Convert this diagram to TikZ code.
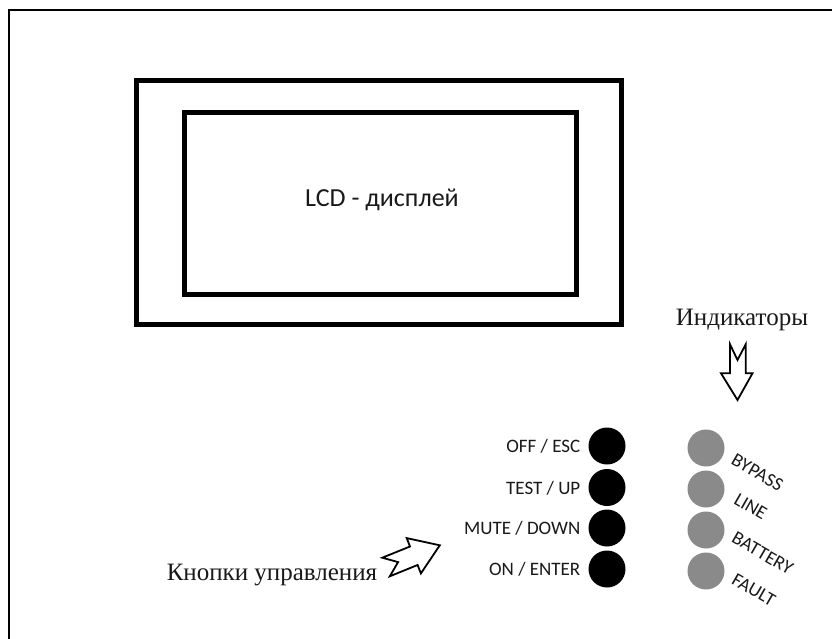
\documentclass[tikz,border=0pt]{standalone}
\usepackage{fontspec}
\setmainfont{Liberation Serif}
\newfontfamily\calibri{Carlito}
\definecolor{ledgray}{RGB}{138,138,138}
\definecolor{ink}{RGB}{25,25,25}
\begin{document}
\begin{tikzpicture}[x=1pt,y=-1pt,
  frame/.style={line width=2pt},
  lcdbox/.style={draw, line width=5pt, inner sep=0pt},
  btn/.style={circle, fill=black, minimum size=37pt, inner sep=0pt},
  led/.style={circle, fill=ledgray, minimum size=37pt, inner sep=0pt},
  btnlabel/.style={font=\calibri\fontsize{19}{19}\selectfont, text=ink, anchor=base east, inner sep=0pt},
  ledlabel/.style={font=\calibri\fontsize{19}{19}\selectfont, text=ink, rotate=-30, inner sep=0pt},
  lcdtext/.style={font=\calibri\fontsize{26}{26}\selectfont, text=ink, inner sep=0pt},
  caption/.style={font=\fontsize{25}{25}\selectfont, text=ink, anchor=base, inner sep=0pt},
  blockarrow/.style={draw, line width=1.8pt, fill=white, line join=miter}]

\useasboundingbox (0,0) rectangle (832,639);
\fill[white] (0,0) rectangle (832,639);
\draw[frame] (832,10) -- (9,10) -- (9,639);

% LCD
\node[lcdbox, minimum width=485pt, minimum height=243pt] (lcdouter) at (379,202.5) {};
\node[lcdbox, minimum width=392.5pt, minimum height=181.5pt] (lcdinner) at (380.25,203.25) {};
\node[lcdtext] (lcdlabel) at (382,200) {LCD - дисплей};

% buttons
\node[btn] (b1) at (607,446) {};
\node[btn] (b2) at (607,487.5) {};
\node[btn] (b3) at (607,528) {};
\node[btn] (b4) at (607,569) {};
\node[btnlabel] (l1) at (580.5,452.5) {OFF / ESC};
\node[btnlabel] (l2) at (580.5,494) {TEST / UP};
\node[btnlabel] (l3) at (580.5,534.5) {MUTE / DOWN};
\node[btnlabel] (l4) at (580.5,575.5) {ON / ENTER};

% indicators
\node[led] (d1) at (706,448) {};
\node[led] (d2) at (706,489) {};
\node[led] (d3) at (706,530) {};
\node[led] (d4) at (706,571) {};
\node[ledlabel] (t1) at (757.5,472.5) {BYPASS};
\node[ledlabel] (t2) at (750.7,506.7) {LINE};
\node[ledlabel] (t3) at (762.7,553.3) {BATTERY};
\node[ledlabel] (t4) at (753.7,590) {FAULT};

% captions
\node[caption] (ind) at (742,325) {Индикаторы};
\node[caption] (knp) at (272,580) {Кнопки управления};

% block arrows
\draw[blockarrow] (730,344.3) -- (737.5,360) -- (745.7,344.3) -- (745.7,373.3) -- (752.5,373.3)
  -- (737.5,400) -- (721,373.3) -- (730,373.3) -- cycle;
\draw[blockarrow] (382.3,557.7) -- (410.0,546.5) -- (406.7,538.1) -- (439.8,545.3)
  -- (420.9,573.4) -- (417.6,565.0) -- (389.8,576.3) -- (398.1,562.1) -- cycle;
\end{tikzpicture}
\end{document}
